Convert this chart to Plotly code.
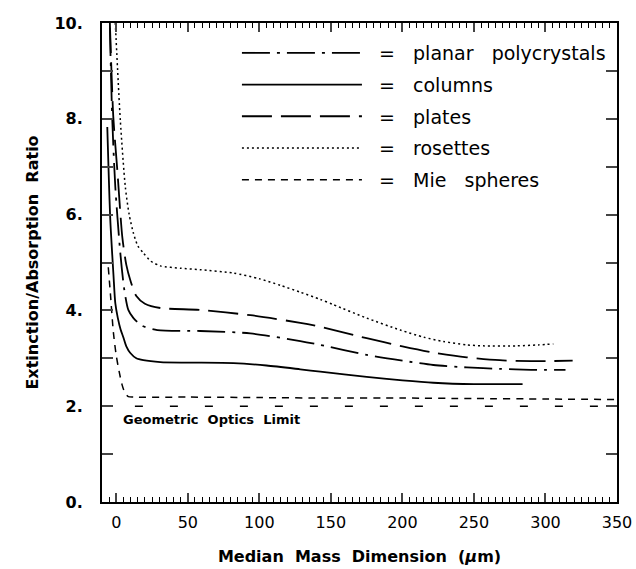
import plotly.graph_objects as go

# ---- data ----
planar_x = [-4.5, -2.8, -0.7, 2.8, 5.5, 8.4, 12, 18, 28.7, 58.7, 93.7, 128.6, 142.6, 175, 200, 221.6, 245, 268, 290, 314]
planar_y = [9.9, 7.97, 6.58, 5.2, 4.45, 4.01, 3.84, 3.68, 3.59, 3.57, 3.52, 3.36, 3.28, 3.07, 2.95, 2.86, 2.81, 2.78, 2.76, 2.76]

columns_x = [-6.3, -4.2, -2.0, -0.7, 1, 3, 4.9, 7, 9.8, 14, 18.9, 30.8, 50, 82, 105, 128.6, 142.6, 175, 200, 221.6, 250, 268, 284]
columns_y = [7.83, 5.89, 4.75, 4.15, 3.85, 3.6, 3.44, 3.25, 3.11, 3.0, 2.96, 2.92, 2.91, 2.90, 2.85, 2.77, 2.72, 2.61, 2.54, 2.49, 2.46, 2.46, 2.46]

plates_x = [-4.5, -2.1, 0.7, 4.2, 7, 9.8, 14, 20, 30.8, 58.7, 93.7, 128.6, 142.6, 175, 200, 221.6, 245, 268, 290, 319]
plates_y = [10.0, 8.04, 6.93, 5.53, 4.95, 4.63, 4.3, 4.14, 4.05, 4.01, 3.9, 3.74, 3.66, 3.42, 3.25, 3.12, 3.02, 2.96, 2.94, 2.95]

rosettes_x = [-0.7, 2.8, 6.3, 9, 11.9, 15, 18.9, 24, 30.8, 45, 58.7, 81.8, 100, 115, 128.6, 142.6, 151.7, 175, 198.5, 215, 228.6, 245, 256.5, 280, 295, 305.5]
rosettes_y = [10.0, 7.97, 6.58, 6.0, 5.62, 5.35, 5.2, 5.03, 4.93, 4.88, 4.85, 4.78, 4.66, 4.52, 4.38, 4.23, 4.12, 3.84, 3.59, 3.44, 3.35, 3.28, 3.26, 3.26, 3.28, 3.30]

mie_x = [-5.6, -4, -2, 0, 2, 4, 6, 8.4, 12, 50, 100, 150, 200, 250, 300, 350]
mie_y = [4.9, 4.3, 3.53, 3.05, 2.72, 2.45, 2.28, 2.2, 2.19, 2.19, 2.18, 2.17, 2.17, 2.16, 2.15, 2.14]

geo_x = [13, 350]
geo_y = [2.0, 2.0]

x_tickvals = [0, 50, 100, 150, 200, 250, 300, 350]
y_tickvals = [0, 1, 2, 3, 4, 5, 6, 7, 8, 9, 10]
y_ticktext = ["0.", "", "2.", "", "4.", "", "6.", "", "8.", "", "10."]

NB = "\u00a0"
FONT = "DejaVu Sans"
S3 = NB * 3


def leg(*words):
    return NB * 2 + "=" + S3 + S3.join(words)


fig = go.Figure()
common = dict(mode="lines", line_shape="spline", line_smoothing=0.7)
fig.add_trace(go.Scatter(x=planar_x, y=planar_y, name=leg("planar", "polycrystals"),
                         line=dict(color="black", width=1.8, dash="28px,7px,3px,7px"), legendgroup="a", **common))
fig.add_trace(go.Scatter(x=columns_x, y=columns_y, name=leg("columns"),
                         line=dict(color="black", width=1.8), legendgroup="b", **common))
fig.add_trace(go.Scatter(x=plates_x, y=plates_y, name=leg("plates"),
                         line=dict(color="black", width=1.8, dash="30px,9px"), legendgroup="c", **common))
fig.add_trace(go.Scatter(x=rosettes_x, y=rosettes_y, name=leg("rosettes"),
                         line=dict(color="black", width=1.5, dash="2px,3px"), legendgroup="d", **common))
fig.add_trace(go.Scatter(x=mie_x, y=mie_y, name=leg("Mie", "spheres"),
                         line=dict(color="black", width=1.5, dash="7px,6px"), legendgroup="e", **common))
fig.add_trace(go.Scatter(x=geo_x, y=geo_y, mode="lines", showlegend=False,
                         line=dict(color="black", width=1.6, dash="8px,27px")))

fig.add_annotation(x=3, y=1.72, xref="x", yref="y",
                   text="Geometric" + NB * 2 + "Optics" + NB * 2 + "Limit",
                   showarrow=False, xanchor="left", yanchor="middle",
                   font=dict(family=FONT, size=13, color="black", weight="bold"))

fig.update_layout(
    width=636, height=569,
    margin=dict(l=102, r=19, t=23, b=67, autoexpand=False),
    paper_bgcolor="white", plot_bgcolor="white",
    font=dict(family=FONT, color="black"),
    legend=dict(x=0.262, y=0.977, xanchor="left", yanchor="top",
                itemwidth=120, tracegroupgap=4,
                font=dict(family=FONT, size=19, color="black"),
                bgcolor="rgba(0,0,0,0)"),
    xaxis=dict(range=[-10, 350], tickvals=x_tickvals, ticks="inside", ticklen=9, tickwidth=1.5,
               showline=True, linecolor="black", linewidth=2, mirror="ticks", showgrid=False,
               zeroline=False, automargin=False, tickfont=dict(family=FONT, size=16, color="black"),
               minor=dict(dtick=5, tick0=0, ticks="inside", ticklen=5, tickwidth=1.2, tickcolor="black", showgrid=False),
               ticklabelstandoff=5,
               title=dict(text="Median" + NB * 2 + "Mass" + NB * 2 + "Dimension" + NB * 2 + "(<i>μ</i>m)",
                          font=dict(family=FONT, size=16, color="black", weight="bold"), standoff=20)),
    yaxis=dict(range=[0, 10], tickvals=y_tickvals, ticktext=y_ticktext, ticks="inside", ticklen=11, tickwidth=1.5,
               showline=True, linecolor="black", linewidth=2, mirror="ticks", showgrid=False,
               zeroline=False, automargin=False, tickfont=dict(family=FONT, size=16, color="black", weight="bold"),
               ticklabelstandoff=14,
               title=dict(text="Extinction/Absorption" + NB * 2 + "Ratio",
                          font=dict(family=FONT, size=16, color="black", weight="bold"), standoff=12)),
)

fig.write_html("out.html")
